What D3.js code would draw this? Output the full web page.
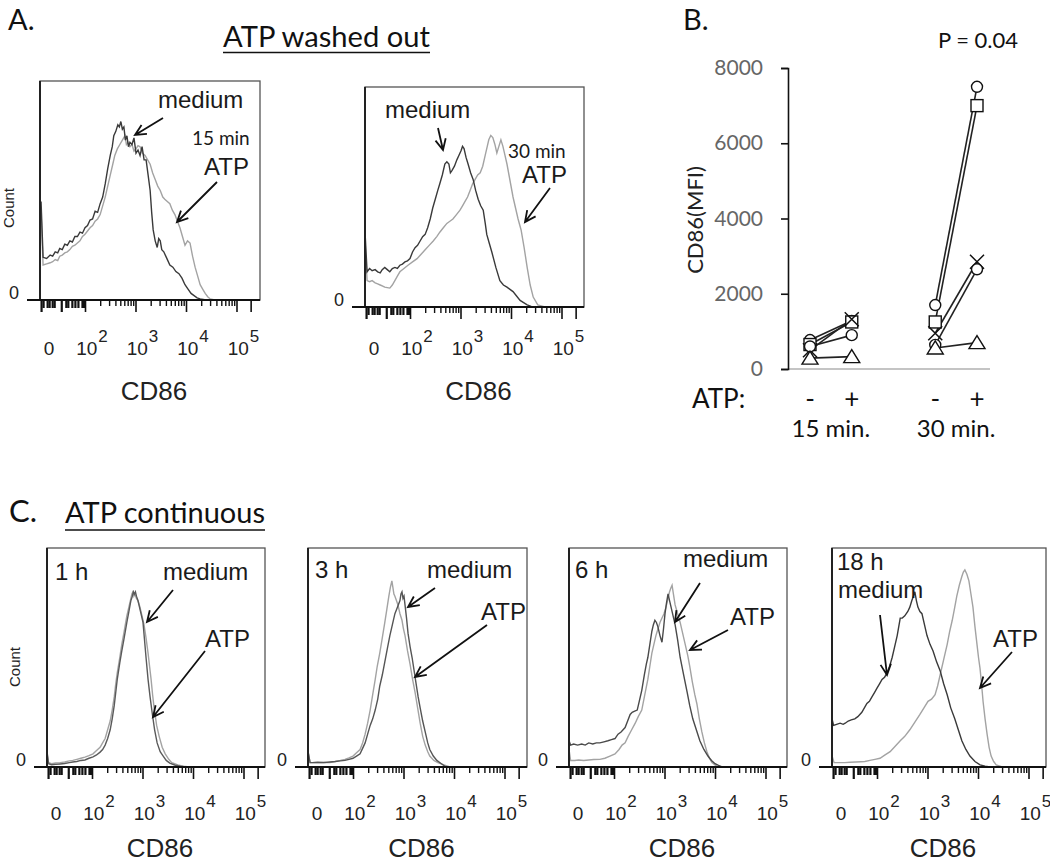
<!DOCTYPE html>
<html><head><meta charset="utf-8">
<script src="https://cdn.jsdelivr.net/npm/d3@7"></script>
<style>body{margin:0;background:#fff}svg{display:block}</style>
</head><body>
<svg id="c" width="1050" height="862"></svg>
<script>
// ---------------- DATA ----------------
// Histogram data: [CD86 intensity in log10 decades, count as % of panel height]
const aMed15 = [[1.13,45],[1.17,19.5],[1.24,19],[1.31,20.5],[1.36,20],[1.41,22],[1.46,21.5],[1.50,23.5],[1.55,23],[1.60,25.5],[1.65,25],[1.70,27],[1.75,26.5],[1.80,29],[1.85,29],[1.90,31],[1.95,30.5],[2.00,33],[2.05,34],[2.10,36.5],[2.15,37],[2.20,40.5],[2.25,40],[2.30,44],[2.35,47],[2.40,53],[2.45,60],[2.50,66],[2.54,70],[2.57,75],[2.61,77],[2.65,80],[2.68,79],[2.71,81.5],[2.74,78],[2.77,79],[2.80,73],[2.83,75],[2.86,70],[2.89,72],[2.93,71],[2.97,74],[3.01,67],[3.05,68.5],[3.09,66],[3.13,70],[3.17,64],[3.21,64],[3.25,57],[3.29,50],[3.32,40],[3.35,32],[3.39,27],[3.43,24],[3.46,28],[3.49,27],[3.52,23],[3.56,22],[3.62,19],[3.68,16],[3.74,15],[3.80,13],[3.86,12],[3.92,10],[3.98,7],[4.04,5],[4.10,3],[4.16,2],[4.22,1],[4.28,0.5],[4.40,0]];
const aATP15 = [[1.13,40],[1.17,16],[1.24,16.5],[1.31,17],[1.36,17.5],[1.41,18.5],[1.46,18],[1.50,20],[1.55,20.5],[1.60,21.5],[1.65,22],[1.70,23],[1.75,24.5],[1.80,25],[1.85,26],[1.90,27],[1.95,29],[2.00,30],[2.05,31.5],[2.10,33],[2.15,34],[2.20,36],[2.25,37],[2.30,39],[2.35,43],[2.40,47],[2.45,52],[2.50,57],[2.55,62],[2.59,66],[2.64,69],[2.69,71],[2.74,73],[2.79,75],[2.82,71],[2.85,72],[2.89,70],[2.93,71],[2.97,68],[3.01,69],[3.05,70.5],[3.09,70],[3.14,67],[3.19,66],[3.24,64],[3.29,62],[3.34,58],[3.39,55],[3.44,52],[3.49,50],[3.54,47],[3.58,46],[3.63,45],[3.68,44],[3.73,41],[3.78,39],[3.83,36],[3.88,33],[3.93,29],[3.98,25],[4.03,27],[4.08,26],[4.13,20],[4.18,15],[4.23,11],[4.28,7],[4.33,5],[4.38,3],[4.43,1.5],[4.48,0.5],[4.57,0]];
const aMed30 = [[1.11,34],[1.15,16],[1.20,17.5],[1.25,16.5],[1.31,17],[1.36,16],[1.41,15.5],[1.45,17],[1.50,18],[1.55,17],[1.60,16],[1.65,17.5],[1.70,18],[1.75,17.5],[1.80,19],[1.85,19.5],[1.90,20.5],[1.95,21],[2.00,22],[2.05,25],[2.10,27],[2.15,28],[2.20,30],[2.25,32],[2.30,33],[2.35,36],[2.40,40],[2.45,45],[2.50,49],[2.55,53],[2.59,56],[2.64,60],[2.69,65],[2.73,66],[2.77,65],[2.80,61],[2.83,62],[2.88,64],[2.93,67],[2.97,69],[3.01,71],[3.04,73],[3.07,72],[3.11,68],[3.15,65],[3.20,61],[3.25,58],[3.30,53],[3.35,49],[3.40,46],[3.45,44],[3.49,38],[3.52,33],[3.57,29],[3.62,25],[3.70,18],[3.78,12],[3.85,10],[3.92,9],[3.98,8],[4.04,7],[4.11,5],[4.18,3],[4.25,2],[4.32,1],[4.40,0.3],[4.48,0]];
const aATP30 = [[1.11,30],[1.15,12],[1.20,11.5],[1.25,12],[1.31,11],[1.36,10.5],[1.41,10],[1.46,9.5],[1.50,9],[1.55,8.8],[1.60,8.6],[1.65,10],[1.70,12],[1.75,14],[1.80,16],[1.88,17.5],[1.96,19],[2.05,20.5],[2.14,22],[2.22,24],[2.30,26],[2.38,28],[2.46,30],[2.53,32],[2.59,34],[2.66,36],[2.73,38],[2.79,39],[2.85,40],[2.92,42],[2.99,44],[3.04,46],[3.09,48],[3.14,50],[3.19,53],[3.24,56],[3.29,58],[3.34,60],[3.39,61],[3.44,64],[3.49,69],[3.53,73],[3.56,76],[3.60,78],[3.64,77],[3.68,74],[3.72,70],[3.76,73],[3.80,76],[3.84,73],[3.88,69],[3.92,65],[3.96,60],[4.00,55],[4.04,50],[4.09,45],[4.14,40],[4.20,35],[4.26,27],[4.32,18],[4.38,10],[4.44,4.5],[4.53,1],[4.67,0]];
const cMed1h = [[1.11,7],[1.14,1.5],[1.20,1],[1.28,1.2],[1.37,1.4],[1.46,1.6],[1.55,2],[1.62,2.3],[1.70,2.5],[1.78,3],[1.86,3.2],[1.94,4],[2.02,4.6],[2.09,5.5],[2.16,6.8],[2.21,8],[2.26,10],[2.31,13],[2.36,17],[2.40,22],[2.44,28],[2.47,34],[2.50,40],[2.55,47.5],[2.59,53],[2.63,58],[2.66,62],[2.69,66],[2.73,71],[2.77,76],[2.80,78],[2.82,80],[2.84,79],[2.86,80],[2.88,78],[2.91,76],[2.93,74],[2.97,70],[3.01,66],[3.04,58],[3.07,50],[3.11,40],[3.15,32],[3.19,25],[3.24,17],[3.29,11],[3.35,7],[3.41,5],[3.47,3],[3.54,1.8],[3.65,0.8],[3.75,0.4],[3.88,0]];
const cATP1h = [[1.11,6],[1.14,2],[1.20,1.5],[1.28,1.8],[1.37,2],[1.46,2.3],[1.55,2.8],[1.62,3],[1.70,3.5],[1.78,4],[1.86,4.5],[1.94,5.2],[2.02,6],[2.09,7.5],[2.16,9],[2.21,11],[2.26,13],[2.31,17],[2.36,21],[2.40,26],[2.44,32],[2.47,38],[2.50,43],[2.55,50],[2.59,56],[2.63,61],[2.66,65],[2.69,69],[2.73,73],[2.77,77],[2.79,79],[2.81,80],[2.83,78],[2.85,79],[2.88,77],[2.91,76],[2.95,73],[2.99,69],[3.03,65],[3.07,59],[3.11,52],[3.14,46],[3.17,40],[3.20,33],[3.23,27],[3.28,19],[3.33,14],[3.39,9],[3.45,6],[3.52,3.5],[3.58,2],[3.70,1],[3.80,0.4],[3.94,0]];
const cMed3h = [[1.11,7],[1.15,2],[1.19,2],[1.30,2.2],[1.42,2],[1.54,2.3],[1.65,2.5],[1.75,2.8],[1.84,3],[1.92,3.5],[2.00,4],[2.07,5],[2.14,6],[2.19,8.5],[2.24,11],[2.29,15],[2.34,19],[2.39,22],[2.44,26],[2.49,31],[2.53,37],[2.58,42],[2.63,48],[2.68,54],[2.73,60],[2.78,65],[2.83,70],[2.88,73],[2.93,76],[2.95,79],[2.97,80],[2.99,77],[3.01,78],[3.03,74],[3.06,68],[3.09,61],[3.13,55],[3.17,50],[3.21,44],[3.25,38],[3.29,32],[3.33,27],[3.38,21],[3.43,16],[3.48,11],[3.52,8],[3.59,5],[3.66,3],[3.75,1.5],[3.84,0]];
const cATP3h = [[1.11,7],[1.15,2],[1.19,2],[1.30,2],[1.42,2.2],[1.54,2],[1.65,2.5],[1.75,3],[1.84,3.5],[1.92,4.2],[2.00,5],[2.07,6.5],[2.14,8],[2.19,11],[2.24,15],[2.29,20],[2.34,26],[2.39,33],[2.44,40],[2.48,46],[2.53,52],[2.58,59],[2.63,66],[2.67,72],[2.71,78],[2.74,82],[2.77,85],[2.79,82],[2.81,79],[2.83,78],[2.86,76],[2.89,74],[2.93,70],[2.97,67],[3.00,63],[3.03,60],[3.08,53],[3.13,47],[3.18,40],[3.23,34],[3.28,27],[3.33,20],[3.38,14],[3.43,10],[3.48,7],[3.52,5],[3.60,3],[3.68,2],[3.80,1],[3.92,0]];
const cMed6h = [[1.11,12],[1.14,10],[1.20,10.5],[1.28,10],[1.36,10.5],[1.43,10],[1.50,11],[1.58,10.5],[1.65,11],[1.72,11],[1.80,11.5],[1.88,12],[1.95,12.5],[2.02,13],[2.08,15],[2.14,16],[2.18,17],[2.22,18],[2.27,21],[2.32,24],[2.36,25],[2.41,25.5],[2.46,26],[2.50,30],[2.55,35],[2.60,42],[2.64,47],[2.67,50],[2.71,56],[2.75,62],[2.78,65],[2.81,67],[2.84,66],[2.87,64],[2.91,60],[2.95,57],[2.98,63],[3.01,70],[3.04,75],[3.07,79],[3.10,76],[3.13,73],[3.17,69],[3.21,65],[3.26,58],[3.31,50],[3.38,42],[3.45,34],[3.50,28],[3.56,22],[3.63,17],[3.70,12],[3.78,8],[3.86,5],[3.93,3],[4.00,1.5],[4.07,0.7],[4.14,0]];
const cATP6h = [[1.11,8],[1.14,3],[1.22,3],[1.30,3.2],[1.40,3],[1.50,3.2],[1.60,3.4],[1.72,3.5],[1.82,4],[1.92,5],[2.02,6],[2.10,8],[2.16,10],[2.22,11],[2.28,14],[2.35,17],[2.42,20],[2.48,23],[2.55,26],[2.61,33],[2.67,40],[2.71,46],[2.75,52],[2.79,56],[2.83,60],[2.87,63],[2.91,66],[2.95,68],[2.99,70],[3.03,73],[3.07,77],[3.10,80],[3.13,82],[3.15,83],[3.17,80],[3.21,74],[3.26,70],[3.31,66],[3.36,61],[3.41,56],[3.46,51],[3.50,46],[3.55,39],[3.60,33],[3.64,29],[3.69,22],[3.74,16],[3.79,11],[3.84,7],[3.89,4],[3.94,2],[4.00,1],[4.06,0]];
const cMed18h = [[1.11,22],[1.14,19],[1.20,19.5],[1.27,20],[1.33,19.5],[1.37,20],[1.43,21],[1.49,21.5],[1.56,22],[1.62,23],[1.66,24],[1.70,25],[1.75,27],[1.80,29],[1.85,30],[1.90,32],[1.95,34],[2.00,36],[2.05,38],[2.10,40],[2.15,41],[2.20,43],[2.25,46],[2.30,50],[2.35,55],[2.40,60],[2.43,64],[2.46,68],[2.50,68],[2.55,69],[2.58,70],[2.61,71],[2.65,73],[2.69,76],[2.72,78],[2.75,80],[2.78,76],[2.81,73],[2.85,71],[2.89,70],[2.94,65],[2.99,60],[3.05,56],[3.11,53],[3.18,48],[3.25,44],[3.32,38],[3.39,33],[3.46,27],[3.54,22],[3.61,17],[3.68,12],[3.76,8],[3.84,5],[3.94,2.5],[4.04,1],[4.14,0.4],[4.24,0]];
const cATP18h = [[1.11,5],[1.15,2],[1.25,2],[1.36,2],[1.47,2.2],[1.58,2.3],[1.68,2.4],[1.76,2.5],[1.86,3],[1.96,3.5],[2.06,4],[2.16,5.5],[2.26,7],[2.36,9.5],[2.46,12],[2.55,14],[2.65,17],[2.75,20.5],[2.85,24],[2.93,27],[3.01,30],[3.08,31],[3.15,33],[3.20,37],[3.25,42],[3.32,49],[3.39,56],[3.44,62],[3.49,67],[3.54,73],[3.58,78],[3.63,83],[3.68,87],[3.71,89],[3.74,90],[3.78,88],[3.82,85],[3.86,79],[3.90,73],[3.94,64],[3.98,56],[4.01,50],[4.04,45],[4.07,38],[4.10,30],[4.14,22],[4.18,15],[4.22,9],[4.26,5],[4.31,2.5],[4.36,1],[4.48,0]];

// Histogram axis ticks (log10 decades)
const majorTicks = [2, 3, 4, 5, 5.28];
const lowTicks = [1.13, 1.17, 1.25, 1.29, 1.35, 1.39, 1.53, 1.62, 1.66, 1.74, 1.80, 1.86, 1.94, 1.97];
const lowMajor = [1.13, 1.53];
const tickLabels = ["0", "2", "3", "4", "5"];   // "0" then powers of ten
const tickLabelVals = [null, 2, 3, 4, 5];

// Panel B: CD86 MFI per donor
const bTimes = ["15 min.", "30 min."];
const bAtp = ["-", "+", "-", "+"];
const bSlots = [0, 1, 3, 4];
const bYTicks = [0, 2000, 4000, 6000, 8000];
const donorShape = ["circle", "square", "cross", "circle", "triangle"];
const mfi15minus = [770, 650, 500, 600, 290];
const mfi15plus  = [1280, 1250, 1320, 900, 330];
const mfi30minus = [1700, 1250, 950, 640, 560];
const mfi30plus  = [7500, 7000, 2850, 2650, 700];

// ---------------- DRAWING ----------------
const svg = d3.select("#c");
const SANS = "'Liberation Sans', Arial, sans-serif";
const HUM = "Lato, 'Open Sans', sans-serif";
const DEC = 50.5, OFF = 45;

function arrow(g, x1, y1, x2, y2) {
  const a = Math.atan2(y2 - y1, x2 - x1), L = 12, s = 0.45;
  const p = d3.path();
  p.moveTo(x1, y1); p.lineTo(x2, y2);
  p.moveTo(x2 - L * Math.cos(a - s), y2 - L * Math.sin(a - s));
  p.lineTo(x2, y2);
  p.lineTo(x2 - L * Math.cos(a + s), y2 - L * Math.sin(a + s));
  g.append("path").attr("d", p.toString()).attr("fill", "none")
    .attr("stroke", "#111").attr("stroke-width", 1.8);
}

function drawHist(P) {
  const {x0, y0, w, h} = P.box;
  const g = svg.append("g");
  const x = d3.scaleLinear().domain([2 - OFF / DEC, 2 + (w - OFF) / DEC]).range([x0, x0 + w]);
  const y = d3.scaleLinear().domain([0, 100]).range([y0 + h, y0]);
  const by = y0 + h;
  g.append("rect").attr("x", x0).attr("y", y0).attr("width", w).attr("height", h)
    .attr("fill", "none").attr("stroke", "#555").attr("stroke-width", 1.3);
  const line = d3.line().x(d => x(d[0])).y(d => y(d[1]));
  g.append("path").datum(P.atp).attr("d", line).attr("fill", "none")
    .attr("stroke", "#a3a3a3").attr("stroke-width", 1.4);
  g.append("path").datum(P.med).attr("d", line).attr("fill", "none")
    .attr("stroke", P.medColor || "#3a3a3a").attr("stroke-width", 1.4);
  g.append("line").attr("x1", x0).attr("x2", x0).attr("y1", y0).attr("y2", by)
    .attr("stroke", "#222").attr("stroke-width", 2);
  const minor = [];
  [2, 3, 4].forEach(n => { for (let k = 2; k <= 9; k++) minor.push(n + Math.log10(k)); });
  const ax = (vals, size, sw) => {
    const a = g.append("g").attr("transform", `translate(0,${by})`)
      .call(d3.axisBottom(x).tickValues(vals).tickSize(size).tickFormat(""));
    a.select(".domain").remove();
    a.selectAll("line").attr("stroke", "#111").attr("stroke-width", sw);
  };
  ax(minor, 6, 1.4);
  ax(majorTicks, 12, 1.6);
  ax(lowTicks.filter(v => !lowMajor.includes(v)), 8, 2.2);
  ax(lowMajor, 12, 2.2);
  g.append("line").attr("x1", x0 - 13).attr("x2", x0 + w).attr("y1", by).attr("y2", by)
    .attr("stroke", "#111").attr("stroke-width", 2);
  const ly = by + P.labDy;
  tickLabels.forEach((t, i) => {
    const v = tickLabelVals[i];
    if (v === null) {
      g.append("text").attr("x", x0 + 9).attr("y", ly).attr("text-anchor", "middle")
        .attr("font-family", SANS).attr("font-size", 19).attr("fill", "#222").text("0");
    } else {
      const tx = g.append("text").attr("x", x(v) + 7).attr("y", ly).attr("text-anchor", "middle")
        .attr("font-family", SANS).attr("font-size", 19).attr("fill", "#222");
      tx.append("tspan").text("10");
      tx.append("tspan").attr("dy", -13).attr("dx", 1).attr("font-size", 17).text(t);
    }
  });
  g.append("text").attr("x", x0 - 26).attr("y", by - 1).attr("text-anchor", "middle")
    .attr("font-family", SANS).attr("font-size", 18).attr("fill", "#222").text("0");
  g.append("text").attr("x", x0 + w / 2 + 4).attr("y", by + P.cdDy).attr("text-anchor", "middle")
    .attr("font-family", SANS).attr("font-size", 26).attr("fill", "#222").text("CD86");
  if (P.count) {
    g.append("text").attr("transform", `translate(${P.count[0]},${P.count[1]}) rotate(-90)`)
      .attr("text-anchor", "middle").attr("font-family", SANS).attr("font-size", 15)
      .attr("fill", "#222").text("Count");
  }
  P.texts.forEach(t => {
    g.append("text").attr("x", x0 + t[1]).attr("y", y0 + t[2])
      .attr("font-family", t[3] || SANS).attr("font-size", t[4] || 24).attr("fill", "#1a1a1a").text(t[0]);
  });
  P.arrows.forEach(a => arrow(g, x0 + a[0], y0 + a[1], x0 + a[2], y0 + a[3]));
}

const panels = [
  {box: {x0: 40, y0: 81, w: 220, h: 219}, med: aMed15, atp: aATP15, labDy: 55, cdDy: 100, count: [14, 208],
   texts: [["medium", 118, 27], ["15 min", 152, 64, HUM, 19], ["ATP", 164, 94]],
   arrows: [[123, 37, 95, 54], [177, 101, 137, 141]]},
  {box: {x0: 365, y0: 87, w: 219, h: 220}, med: aMed30, atp: aATP30, labDy: 48, cdDy: 93,
   texts: [["medium", 20, 31], ["30 min", 143, 71, HUM, 19], ["ATP", 157, 96]],
   arrows: [[73, 41, 78, 63], [185, 101, 160, 135]]},
  {box: {x0: 47, y0: 548, w: 218, h: 219}, med: cMed1h, atp: cATP1h, labDy: 53, cdDy: 90, count: [20, 667],
   medColor: "#5a5a5a",
   texts: [["1 h", 8, 32], ["medium", 116, 32], ["ATP", 158, 99]],
   arrows: [[126, 42, 100, 74], [158, 103, 106, 169]]},
  {box: {x0: 308, y0: 548, w: 219, h: 219}, med: cMed3h, atp: cATP3h, labDy: 53, cdDy: 90,
   medColor: "#555",
   texts: [["3 h", 7, 30], ["medium", 119, 30], ["ATP", 173, 72]],
   arrows: [[127, 40, 100, 59], [179, 77, 107, 129]]},
  {box: {x0: 569, y0: 548, w: 218, h: 219}, med: cMed6h, atp: cATP6h, labDy: 53, cdDy: 90,
   medColor: "#4a4a4a",
   texts: [["6 h", 6, 30], ["medium", 114, 19], ["ATP", 161, 77]],
   arrows: [[131, 35, 106, 74], [159, 82, 121, 102]]},
  {box: {x0: 832, y0: 548, w: 214, h: 219}, med: cMed18h, atp: cATP18h, labDy: 53, cdDy: 90,
   texts: [["18 h", 5, 22], ["medium", 6, 50], ["ATP", 161, 99]],
   arrows: [[48, 67, 55, 127], [180, 104, 148, 140]]}
];
panels.forEach(drawHist);

// Titles (font size fitted to the reference text width)
function title(txt, x, y, size, len, underline) {
  const t = svg.append("text").attr("x", x).attr("y", y).attr("font-family", HUM).attr("font-size", size)
    .attr("fill", "#111").text(txt);
  if (len) {
    const w = t.node().getComputedTextLength();
    if (w > 0) t.attr("font-size", size * len / w);
  }
  if (underline) svg.append("line").attr("x1", x).attr("x2", x + len).attr("y1", underline).attr("y2", underline)
    .attr("stroke", "#111").attr("stroke-width", 1.5);
}
title("A.", 8, 30, 29);
title("B.", 683, 30, 29);
title("C.", 9, 522, 31);
title("ATP washed out", 223, 47, 28, 207, 52.5);
title("ATP continuous", 65, 523, 26, 200, 530);

// ---------------- PANEL B ----------------
const gb = svg.append("g");
const bx = d3.scaleLinear().domain([0, 4]).range([810, 977]);
const byS = d3.scaleLinear().domain([0, 8000]).range([369, 68]);
gb.append("line").attr("x1", 788).attr("x2", 990).attr("y1", byS(0)).attr("y2", byS(0))
  .attr("stroke", "#c4c4c4").attr("stroke-width", 2);
const yAx = gb.append("g").attr("transform", "translate(788,0)")
  .call(d3.axisLeft(byS).tickValues(bYTicks).tickSize(7).tickPadding(18).tickFormat(d3.format("d")));
yAx.select(".domain").attr("stroke", "#111").attr("stroke-width", 1.6);
yAx.selectAll(".tick line").attr("stroke", "#111").attr("stroke-width", 1.6);
yAx.selectAll("text").attr("font-family", HUM).attr("font-size", 21).attr("fill", "#666");
gb.append("text").attr("transform", "translate(703,220) rotate(-90)").attr("text-anchor", "middle")
  .attr("font-family", HUM).attr("font-size", 22).attr("fill", "#222").text("CD86(MFI)");

const pairs = [[mfi15minus, mfi15plus, 0], [mfi30minus, mfi30plus, 1]];
pairs.forEach(([a, b, t]) => {
  a.forEach((v, i) => {
    gb.append("line").attr("x1", bx(bSlots[2 * t])).attr("y1", byS(v))
      .attr("x2", bx(bSlots[2 * t + 1])).attr("y2", byS(b[i]))
      .attr("stroke", "#222").attr("stroke-width", 1.6);
  });
});
function marker(shape, cx, cy) {
  if (shape === "circle") gb.append("circle").attr("cx", cx).attr("cy", cy).attr("r", 5.5)
    .attr("fill", "#fff").attr("stroke", "#111").attr("stroke-width", 1.4);
  else if (shape === "square") gb.append("rect").attr("x", cx - 6).attr("y", cy - 6).attr("width", 12).attr("height", 12)
    .attr("fill", "#fff").attr("stroke", "#111").attr("stroke-width", 1.4);
  else if (shape === "triangle") gb.append("path")
    .attr("d", `M${cx},${cy - 7}L${cx + 8},${cy + 6}L${cx - 8},${cy + 6}Z`)
    .attr("fill", "#fff").attr("stroke", "#111").attr("stroke-width", 1.4);
  else gb.append("path").attr("d", `M${cx - 7},${cy - 7}L${cx + 7},${cy + 7}M${cx - 7},${cy + 7}L${cx + 7},${cy - 7}`)
    .attr("stroke", "#111").attr("stroke-width", 1.5);
}
pairs.forEach(([a, b, t]) => {
  donorShape.forEach((s, i) => {
    marker(s, bx(bSlots[2 * t]), byS(a[i]));
    marker(s, bx(bSlots[2 * t + 1]), byS(b[i]));
  });
});
gb.append("text").attr("x", 692).attr("y", 408).attr("font-family", HUM).attr("font-size", 26)
  .attr("fill", "#111").text("ATP:");
bAtp.forEach((s, i) => {
  gb.append("text").attr("x", bx(bSlots[i])).attr("y", 408).attr("text-anchor", "middle")
    .attr("font-family", HUM).attr("font-size", 26).attr("fill", "#111").text(s);
});
bTimes.forEach((s, t) => {
  gb.append("text").attr("x", (bx(bSlots[2 * t]) + bx(bSlots[2 * t + 1])) / 2).attr("y", 437)
    .attr("text-anchor", "middle").attr("font-family", HUM).attr("font-size", 24).attr("fill", "#111").text(s);
});
gb.append("text").attr("x", 978).attr("y", 48).attr("text-anchor", "middle")
  .attr("font-family", HUM).attr("font-size", 22).attr("fill", "#111").text("P = 0.04");
</script>
</body></html>
